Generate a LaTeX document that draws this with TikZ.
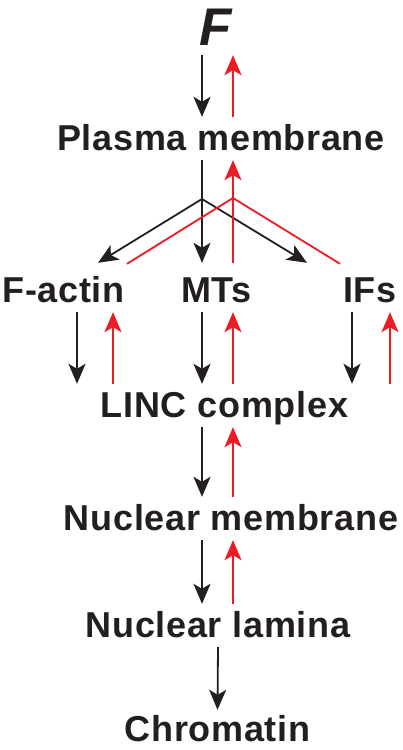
\documentclass[tikz,border=0pt]{standalone}
\usepackage{fontspec}
\setmainfont{Liberation Sans}
\newfontfamily\lblfont[LetterSpace=2]{Liberation Sans}
\usepackage{tikz}
\usetikzlibrary{arrows.meta}
\definecolor{ink}{HTML}{231F20}
\definecolor{sig}{HTML}{ED1C24}
\tikzset{
    lbl/.style={font=\lblfont\bfseries\fontsize{36}{36}\selectfont, text=ink, text height=25pt, text depth=2pt, inner xsep=0pt, inner ysep=8pt, anchor=base},
    fwd/.style={draw=ink, line width=1.8pt, -{Stealth[length=20pt, width=17pt, inset=5pt]}},
    bck/.style={fwd, draw=sig},
    sigline/.style={draw=sig, line width=1.8pt},
}

\begin{document}
\begin{tikzpicture}[x=1pt, y=-1pt]
    \useasboundingbox (0,0) rectangle (403,750);
    \node[lbl, font=\bfseries\itshape\fontsize{53}{53}\selectfont] (F) at (216,45) {F};
    \node[lbl] (plasma) at (221,150) {Plasma membrane};
    \node[lbl] (factin) at (63.5,302) {F-actin};
    \node[lbl] (mts) at (216.5,302) {MTs};
    \node[lbl] (ifs) at (370,302) {IFs};
    \node[lbl] (linc) at (224.5,417) {LINC complex};
    \node[lbl] (nucmem) at (231,530) {Nuclear membrane};
    \node[lbl] (lamina) at (218,637) {Nuclear lamina};
    \node[lbl, text height=27pt, text depth=0pt, inner ysep=4pt] (chromatin) at (217.5,741) {Chromatin};

    \coordinate (dn) at (202,0);
    \coordinate (up) at (233,0);
    \coordinate (fork) at (202,199);
    \coordinate (join) at (233,198);

    \draw[fwd] (F.south -| dn) -- (plasma.north -| dn);
    \draw[bck] (plasma.north -| up) -- (F.south -| up);

    \draw[fwd] (plasma.south -| dn) -- ([yshift=6pt]mts.north -| dn);
    \draw[fwd] (fork) -- ([xshift=34.5, yshift=6pt]factin.north);
    \draw[fwd] (fork) -- ([xshift=-63, yshift=6pt]ifs.north);
    \draw[bck] ([yshift=6pt]mts.north -| up) -- (plasma.south -| up);
    \draw[sigline] ([xshift=63.5, yshift=5pt]factin.north) -- (join) -- ([xshift=-30, yshift=5pt]ifs.north);

    \draw[fwd] ([xshift=13.5]factin.south) -- ([xshift=13.5]factin.south |- linc.north);
    \draw[bck] ([xshift=49.5]factin.south |- linc.north) -- ([xshift=49.5]factin.south);
    \draw[fwd] (mts.south -| dn) -- (linc.north -| dn);
    \draw[bck] (linc.north -| up) -- (mts.south -| up);
    \draw[fwd] ([xshift=-18]ifs.south) -- ([xshift=-18]ifs.south |- linc.north);
    \draw[bck] ([xshift=20]ifs.south |- linc.north) -- ([xshift=20]ifs.south);

    \draw[fwd] (linc.south -| dn) -- (nucmem.north -| dn);
    \draw[bck] (nucmem.north -| up) -- (linc.south -| up);
    \draw[fwd] (nucmem.south -| dn) -- (lamina.north -| dn);
    \draw[bck] (lamina.north -| up) -- (nucmem.south -| up);
    \draw[fwd] (lamina.south) -- (chromatin.north);
\end{tikzpicture}
\end{document}
